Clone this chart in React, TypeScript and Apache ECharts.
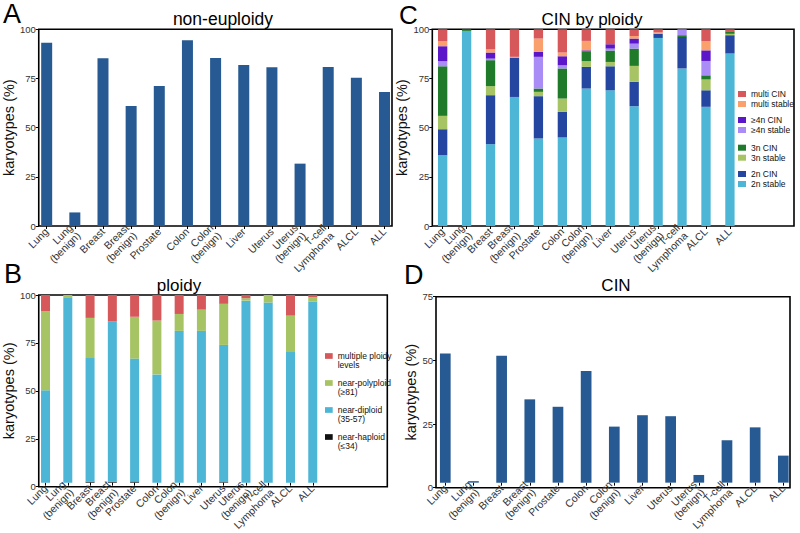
import React, { useEffect, useRef } from "react";
import * as echarts from "echarts";

const categories = [
  "Lung", "Lung\n(benign)", "Breast", "Breast\n(benign)", "Prostate", "Colon",
  "Colon\n(benign)", "Liver", "Uterus", "Uterus\n(benign)", "T-cell\nLymphoma", "ALCL", "ALL",
];
const yTicks = [0, 25, 50, 75, 100];

// Panel A: non-euploidy (%)
const nonEuploidy = [93.2, 6.9, 85.3, 61.0, 71.2, 94.4, 85.4, 81.9, 80.7, 31.7, 80.8, 75.4, 68.1];

// Panel B: ploidy (%)
const ploidyNames = ["near-haploid\n(≤34)", "near-diploid\n(35-57)", "near-polyploid\n(≥81)", "multiple ploidy\nlevels"];
const nearHaploid = [0, 0, 0.5, 0.5, 0.6, 0, 0, 0, 0.3, 0, 0, 0, 0];
const nearDiploid = [49.2, 98.8, 65.9, 85.3, 65.5, 57.7, 80.9, 80.9, 73.1, 97.0, 96.0, 69.6, 96.5];
const nearPolyploid = [42.1, 1.2, 21.4, 0, 22.3, 28.7, 9.0, 11.3, 21.9, 1.3, 4.0, 19.4, 2.3];
const multiPloidy = [8.7, 0, 12.2, 14.2, 11.6, 13.6, 10.1, 7.8, 4.7, 1.7, 0, 11.0, 1.2];

// Panel C: CIN by ploidy (%)
const cinNames = ["2n stable", "2n CIN", "3n stable", "3n CIN", "≥4n stable", "≥4n CIN", "multi stable", "multi CIN"];
const s2nStable = [36.0, 99.2, 41.6, 65.6, 44.5, 45.0, 69.9, 69.0, 60.9, 95.6, 80.1, 60.6, 87.7];
const s2nCIN = [13.2, 0, 24.9, 19.8, 21.5, 13.0, 11.0, 12.2, 12.4, 2.2, 16.0, 8.4, 9.3];
const s3nStable = [6.8, 0, 4.6, 0, 2.2, 6.8, 2.9, 2.2, 8.1, 0, 0, 5.5, 0.7];
const s3nCIN = [25.2, 0.8, 13.2, 0, 1.7, 15.3, 5.0, 5.8, 8.8, 0, 0.9, 2.1, 1.3];
const s4nStable = [2.6, 0, 0.8, 0, 16.1, 1.6, 0, 1.0, 2.5, 0, 3.0, 7.3, 0];
const s4nCIN = [7.6, 0, 3.1, 0, 2.5, 4.6, 0.5, 2.2, 2.6, 0, 0, 5.4, 0];
const sMultiStable = [2.5, 0, 1.6, 0.6, 6.8, 1.9, 4.8, 0, 1.3, 0.6, 0, 4.6, 0];
const sMultiCIN = [6.1, 0, 10.2, 14.0, 4.7, 11.8, 5.9, 7.6, 3.4, 1.6, 0, 6.1, 1.0];

// Panel D: CIN (%)
const cinTotal = [52.1, 0.6, 51.2, 33.6, 30.6, 45.0, 22.6, 27.2, 26.8, 3.1, 17.1, 22.3, 10.9];
const dTicks = [0, 25, 50, 75];

const FONT = "Liberation Sans, Arial, Helvetica, sans-serif";
const BAR_BLUE = "#275A92";
const ploidyColors = ["#111111", "#4DB6D6", "#A6C463", "#D6585A"];
const cinColors = ["#4DB6D6", "#2446A0", "#A6C463", "#1F7A2A", "#A98CF6", "#5B16C9", "#F9A06C", "#D6585A"];

const frames = [
  { left: 36, top: 29.3, width: 356, height: 196.7 },
  { left: 38.3, top: 295, width: 349, height: 191.7 },
  { left: 432.3, top: 29.3, width: 361.7, height: 196.7 },
  { left: 436, top: 296.7, width: 354, height: 191 },
];
const dataGrids = [
  { left: 32.6, width: 366 },
  { left: 34.4, width: 289.5 },
  { left: 430.7, width: 311.2 },
  { left: 431.2, width: 366.2 },
];
const nameGaps = [9.5, 11.5, 6.5, 9];
const yMax = [100, 100, 100, 75];

function buildOption() {
  const grid: any[] = [];
  const xAxis: any[] = [];
  const yAxis: any[] = [];
  for (let p = 0; p < 4; p++) {
    const f = frames[p];
    const d = dataGrids[p];
    const ticks = p === 3 ? dTicks : yTicks;
    grid.push({ ...f, show: true, borderColor: "#000", borderWidth: 1.6, backgroundColor: "transparent" });
    grid.push({ left: d.left, width: d.width, top: f.top, height: f.height, show: false });
    xAxis.push({ gridIndex: 2 * p, type: "value", show: false, min: 0, max: 1 });
    yAxis.push({
      gridIndex: 2 * p, type: "value", min: 0, max: yMax[p], interval: ticks[1] - ticks[0],
      axisLine: { show: false },
      axisTick: { show: true, length: 3, lineStyle: { color: "#000", width: 1 } },
      splitLine: { show: false },
      axisLabel: { fontSize: 9.5, color: "#333", margin: 3, fontFamily: FONT },
      name: "karyotypes (%)", nameLocation: "middle", nameGap: nameGaps[p],
      nameTextStyle: { fontSize: 14.5, color: "#111", fontFamily: FONT },
    });
    xAxis.push({
      gridIndex: 2 * p + 1, type: "category", data: categories,
      axisLine: { show: false },
      axisTick: { show: true, alignWithLabel: true, length: 3, lineStyle: { color: "#000", width: 1 } },
      axisLabel: { rotate: 45, interval: 0, fontSize: 10.5, margin: 4, color: "#333", lineHeight: 11, fontFamily: FONT },
    });
    yAxis.push({ gridIndex: 2 * p + 1, type: "value", min: 0, max: yMax[p], show: false });
  }

  const series: any[] = [];
  series.push({ type: "bar", name: "non-euploidy", xAxisIndex: 1, yAxisIndex: 1, data: nonEuploidy, barWidth: 11, itemStyle: { color: BAR_BLUE } });
  const bData = [nearHaploid, nearDiploid, nearPolyploid, multiPloidy];
  bData.forEach((arr, i) => {
    series.push({ type: "bar", name: ploidyNames[i], stack: "b", xAxisIndex: 3, yAxisIndex: 3, data: arr, barWidth: 9, itemStyle: { color: ploidyColors[i] } });
  });
  const cData = [s2nStable, s2nCIN, s3nStable, s3nCIN, s4nStable, s4nCIN, sMultiStable, sMultiCIN];
  cData.forEach((arr, i) => {
    series.push({ type: "bar", name: cinNames[i], stack: "c", xAxisIndex: 5, yAxisIndex: 5, data: arr, barWidth: 9.3, itemStyle: { color: cinColors[i] } });
  });
  series.push({ type: "bar", name: "CIN", xAxisIndex: 7, yAxisIndex: 7, data: cinTotal, barWidth: 10.7, itemStyle: { color: BAR_BLUE } });

  const legendText = { fontSize: 8.5, color: "#111", fontFamily: FONT };
  const legend: any[] = [
    {
      data: [...ploidyNames].reverse(), orient: "vertical", left: 325, top: 342.5, padding: 0,
      itemWidth: 7.7, itemHeight: 5.7, itemGap: 0, icon: "rect", selectedMode: false,
      formatter: (n: string) => "\n" + n, textStyle: { ...legendText, lineHeight: 9 },
    },
  ];
  const pairs = [["multi CIN", "multi stable"], ["≥4n CIN", "≥4n stable"], ["3n CIN", "3n stable"], ["2n CIN", "2n stable"]];
  const pairTops = [89, 115, 142.7, 169];
  pairs.forEach((pr, i) => {
    legend.push({
      data: pr, orient: "vertical", left: 738, top: pairTops[i], padding: 0,
      itemWidth: 8, itemHeight: 6, itemGap: 0, icon: "rect", selectedMode: false,
      textStyle: { ...legendText, lineHeight: 10 },
    });
  });

  const txt = (text: string, x: number, y: number, size: number, align = "center") => ({
    type: "text", x, y, silent: true,
    style: { text, fontSize: size, fontFamily: FONT, fill: "#000", align, verticalAlign: "middle" },
  });
  const graphic = [
    txt("non-euploidy", 223, 19, 17.5),
    txt("CIN by ploidy", 592, 19.5, 17),
    txt("ploidy", 179, 285, 17),
    txt("CIN", 616, 285, 17),
    txt("A", 3, 14, 27, "left"),
    txt("B", 4, 274, 27, "left"),
    txt("C", 399, 15, 26, "left"),
    txt("D", 404, 275, 27, "left"),
  ];

  return {
    animation: false,
    backgroundColor: "#fff",
    textStyle: { fontFamily: FONT },
    grid, xAxis, yAxis, series, legend, graphic,
  };
}

export default function App() {
  const ref = useRef<HTMLDivElement>(null);
  useEffect(() => {
    const chart = echarts.init(ref.current!, null, { renderer: "svg", width: 800, height: 533 });
    chart.setOption(buildOption() as any);
    return () => chart.dispose();
  }, []);
  return (
    <div
      ref={ref}
      style={{ position: "fixed", left: 0, top: 0, width: 800, height: 533, background: "#fff" }}
    />
  );
}
